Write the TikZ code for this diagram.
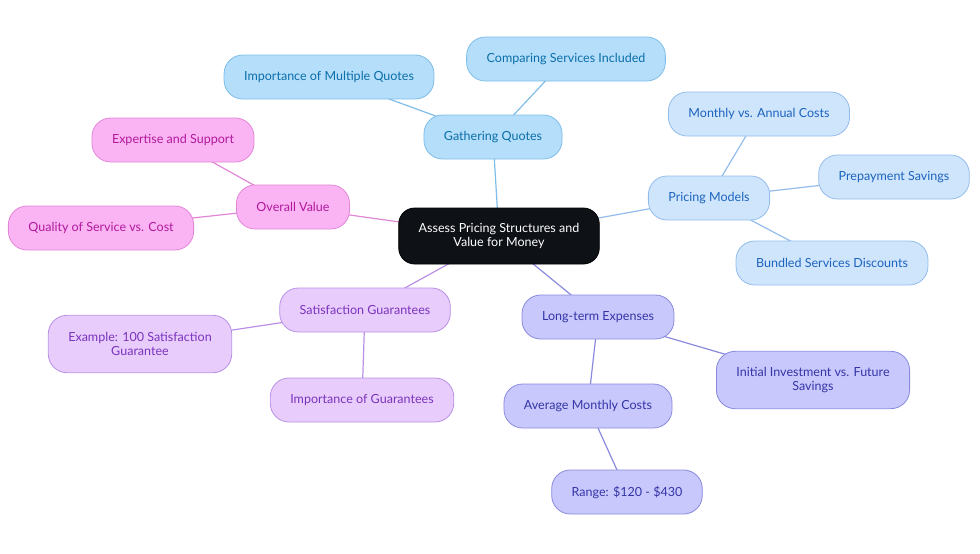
\documentclass[tikz,border=0pt]{standalone}
\usepackage{fontspec}
\setmainfont{Lato}
\usetikzlibrary{positioning,backgrounds}
\definecolor{rootfill}{HTML}{0E1116}
\definecolor{skyfill}{HTML}{B5DEFB}
\definecolor{skyline}{HTML}{7DBDE8}
\definecolor{skytext}{HTML}{0A6EA8}
\definecolor{bluefill}{HTML}{CFE5FC}
\definecolor{blueline}{HTML}{92BCEB}
\definecolor{bluetext}{HTML}{1C63BE}
\definecolor{pinkfill}{HTML}{FBB4F3}
\definecolor{pinkline}{HTML}{E286D6}
\definecolor{pinktext}{HTML}{B0199C}
\definecolor{lilacfill}{HTML}{E8CCFC}
\definecolor{lilacline}{HTML}{BA90E6}
\definecolor{lilactext}{HTML}{7A33BE}
\definecolor{indigofill}{HTML}{C8C8FC}
\definecolor{indigoline}{HTML}{8A8ADE}
\definecolor{indigotext}{HTML}{3434A8}
\tikzset{
  mm/base/.style={draw, rounded corners=14pt, line width=0.6pt, align=center,
    inner xsep=15pt, minimum height=33pt, font=\fontsize{9.4}{10.5}\selectfont},
  mm/root/.style={mm/base, fill=rootfill, draw=black, text=white, rounded corners=12pt, minimum height=42pt},
  mm/sky/.style={mm/base, fill=skyfill, draw=skyline, text=skytext},
  mm/blue/.style={mm/base, fill=bluefill, draw=blueline, text=bluetext},
  mm/pink/.style={mm/base, fill=pinkfill, draw=pinkline, text=pinktext},
  mm/lilac/.style={mm/base, fill=lilacfill, draw=lilacline, text=lilactext},
  mm/indigo/.style={mm/base, fill=indigofill, draw=indigoline, text=indigotext},
  mm/link/.style={line width=0.9pt}
}
\begin{document}
\begin{tikzpicture}[x=0.75pt, y=-0.75pt]
  \useasboundingbox (0,0) rectangle (980,553);
  % Central topic
  \node[mm/root] (root) at (499,236) {Assess Pricing Structures and\\Value for Money};

  % Main branches
  \node[mm/sky] (gather) at (493,137) {Gathering Quotes};
  \node[mm/blue] (pricing) at (709,198) {Pricing Models};
  \node[mm/pink] (value) at (293,207) {Overall Value};
  \node[mm/lilac] (guar) at (365,310) {Satisfaction Guarantees};
  \node[mm/indigo] (longterm) at (598,317) {Long-term Expenses};

  % Leaves
  \node[mm/sky] (multiple) at (329,77) {Importance of Multiple Quotes};
  \node[mm/sky] (compare) at (566,59) {Comparing Services Included};
  \node[mm/blue] (monthly) at (759,114) {Monthly vs. Annual Costs};
  \node[mm/blue] (prepay) at (894,177) {Prepayment Savings};
  \node[mm/blue] (bundled) at (832,263) {Bundled Services Discounts};
  \node[mm/pink] (expert) at (173,140) {Expertise and Support};
  \node[mm/pink] (quality) at (101,228) {Quality of Service vs. Cost};
  \node[mm/lilac, minimum height=43pt] (example) at (140,344) {Example: 100 Satisfaction\\Guarantee};
  \node[mm/lilac] (impguar) at (362,400) {Importance of Guarantees};
  \node[mm/indigo, minimum height=43pt] (initial) at (813,380) {Initial Investment vs. Future\\Savings};
  \node[mm/indigo] (average) at (588,406) {Average Monthly Costs};
  \node[mm/indigo] (range) at (627,492) {Range: \$120 - \$430};

  % Connectors behind the boxes
  \begin{scope}[on background layer]
    \draw[mm/link, skyline] (root.center) -- (gather.center);
    \draw[mm/link, skyline] (gather.center) -- (multiple.center);
    \draw[mm/link, skyline] (gather.center) -- (compare.center);
    \draw[mm/link, blueline] (root.center) -- (pricing.center);
    \draw[mm/link, blueline] (pricing.center) -- (monthly.center);
    \draw[mm/link, blueline] (pricing.center) -- (prepay.center);
    \draw[mm/link, blueline] (pricing.center) -- (bundled.center);
    \draw[mm/link, pinkline] (root.center) -- (value.center);
    \draw[mm/link, pinkline] (value.center) -- (expert.center);
    \draw[mm/link, pinkline] (value.center) -- (quality.center);
    \draw[mm/link, lilacline] (root.center) -- (guar.center);
    \draw[mm/link, lilacline] (guar.center) -- (example.center);
    \draw[mm/link, lilacline] (guar.center) -- (impguar.center);
    \draw[mm/link, indigoline] (root.center) -- (longterm.center);
    \draw[mm/link, indigoline] (longterm.center) -- (initial.center);
    \draw[mm/link, indigoline] (longterm.center) -- (average.center);
    \draw[mm/link, indigoline] (average.center) -- (range.center);
  \end{scope}
\end{tikzpicture}
\end{document}
